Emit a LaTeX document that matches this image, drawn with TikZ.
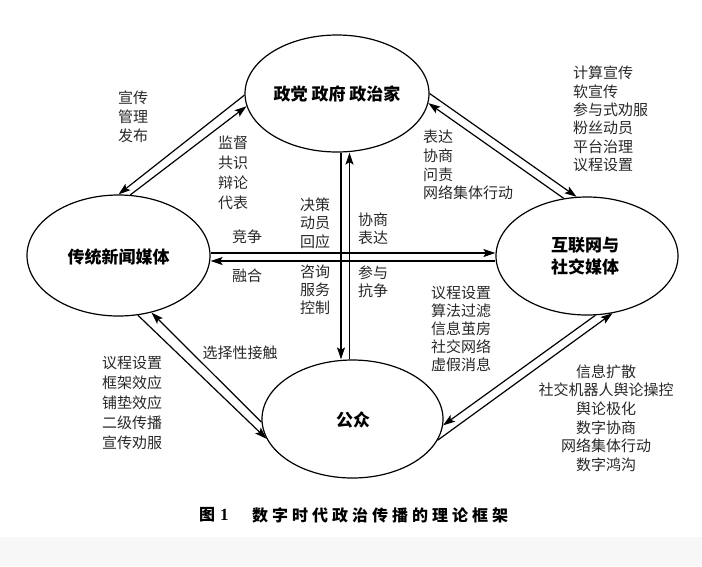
\documentclass[tikz,border=0pt]{standalone}
\usepackage{fontspec}
\setmainfont{Noto Sans CJK SC}
\newfontfamily\capfont[LetterSpace=25]{Noto Sans CJK SC}
\newfontfamily\numfont{Liberation Serif}
\usetikzlibrary{shapes.geometric,arrows.meta}
\definecolor{band}{RGB}{247,247,247}
\definecolor{ink}{RGB}{40,40,40}
\begin{document}
\begin{tikzpicture}[x=1pt,y=-1pt,
  ell/.style={draw, ellipse, line width=1.2pt, inner sep=0pt},
  etext/.style={font=\fontsize{17}{22}\selectfont\bfseries, align=center, inner sep=0pt},
  lbl/.style={font=\fontsize{15}{#1}\selectfont, inner sep=0pt, text=ink},
  lbl/.default=18.5,
  arr/.style={-{Stealth[length=12pt,width=8pt,inset=2.5pt]}, line width=1.2pt},
  capstyle/.style={font=\capfont\fontsize{16}{20}\selectfont\bfseries, inner sep=0pt}]
\useasboundingbox (0,0) rectangle (702,566);
\fill[band] (0,537) rectangle (702,566);

% ellipses
\node[ell, minimum width=184pt, minimum height=117pt] (T) at (337,93.5) {};
\node[etext] (Tt) at (337,94) {政党 政府 政治家};
\node[ell, minimum width=183pt, minimum height=121pt] (L) at (118.5,255.5) {};
\node[etext] (Lt) at (118.5,257) {传统新闻媒体};
\node[ell, minimum width=182pt, minimum height=118pt] (R) at (587,256) {};
\node[etext] (Rt) at (585,256) {互联网与\\社交媒体};
\node[ell, minimum width=181pt, minimum height=118pt] (B) at (352.5,419) {};
\node[etext] (Bt) at (353,419.5) {公众};

% connectors
\draw[arr] (T.181) -- (L.90);
\draw[arr] (L.79) -- (T.188);
\draw[arr] ([xshift=4pt]T.south) -- ([xshift=-11.5pt]B.north);
\draw[arr] ([xshift=-3pt]B.north) -- ([xshift=12.5pt]T.south);
\draw[arr] ([yshift=2.5pt]L.east) -- ([yshift=3pt]R.west);
\draw[arr] ([yshift=-5pt]R.west) -- ([yshift=-5.5pt]L.east);
\draw[arr] (T.0) -- (R.100);
\draw[arr] (R.112.5) -- (T.354);
\draw[arr] (L.288) -- (B.193.5);
\draw[arr] (B.182.5) -- (L.300);
\draw[arr] (B.346.4) -- (R.294.6);
\draw[arr] (R.278.7) -- (B.356.3);

% labels
\node[lbl=19, align=left] (l1) at (133,117) {宣传\\管理\\发布};
\node[lbl=20, align=left] (l2) at (233,173) {监督\\共识\\辩论\\代表};
\node[lbl=18.5, align=left] (l3) at (315,223) {决策\\动员\\回应};
\node[lbl] (l4) at (247,237) {竞争};
\node[lbl] (l5) at (247,276) {融合};
\node[lbl=18, align=left] (l6) at (315,290) {咨询\\服务\\控制};
\node[lbl=18, align=left] (l7) at (373,229) {协商\\表达};
\node[lbl=18, align=left] (l8) at (373,282) {参与\\抗争};
\node[lbl=18.7, align=left, anchor=west] (l9) at (423,165) {表达\\协商\\问责\\网络集体行动};
\node[lbl=18.4, align=left, anchor=west] (l10) at (573,119) {计算宣传\\软宣传\\参与式劝服\\粉丝动员\\平台治理\\议程设置};
\node[lbl=18, align=left, anchor=west] (l11) at (431,329) {议程设置\\算法过滤\\信息茧房\\社交网络\\虚假消息};
\node[lbl=18.6, align=center] (l12) at (606,418) {信息扩散\\社交机器人舆论操控\\舆论极化\\数字协商\\网络集体行动\\数字鸿沟};
\node[lbl] (l13) at (240,353) {选择性接触};
\node[lbl=20, align=left, anchor=west] (l14) at (102,403) {议程设置\\框架效应\\铺垫效应\\二级传播\\宣传劝服};

% caption
\node[capstyle, anchor=west] (c1) at (199,515) {图\hspace{5pt}{\numfont\fontsize{17}{20}\selectfont\bfseries 1}};
\node[capstyle, anchor=west] (c2) at (252,515) {数字时代政治传播的理论框架};
\end{tikzpicture}
\end{document}
